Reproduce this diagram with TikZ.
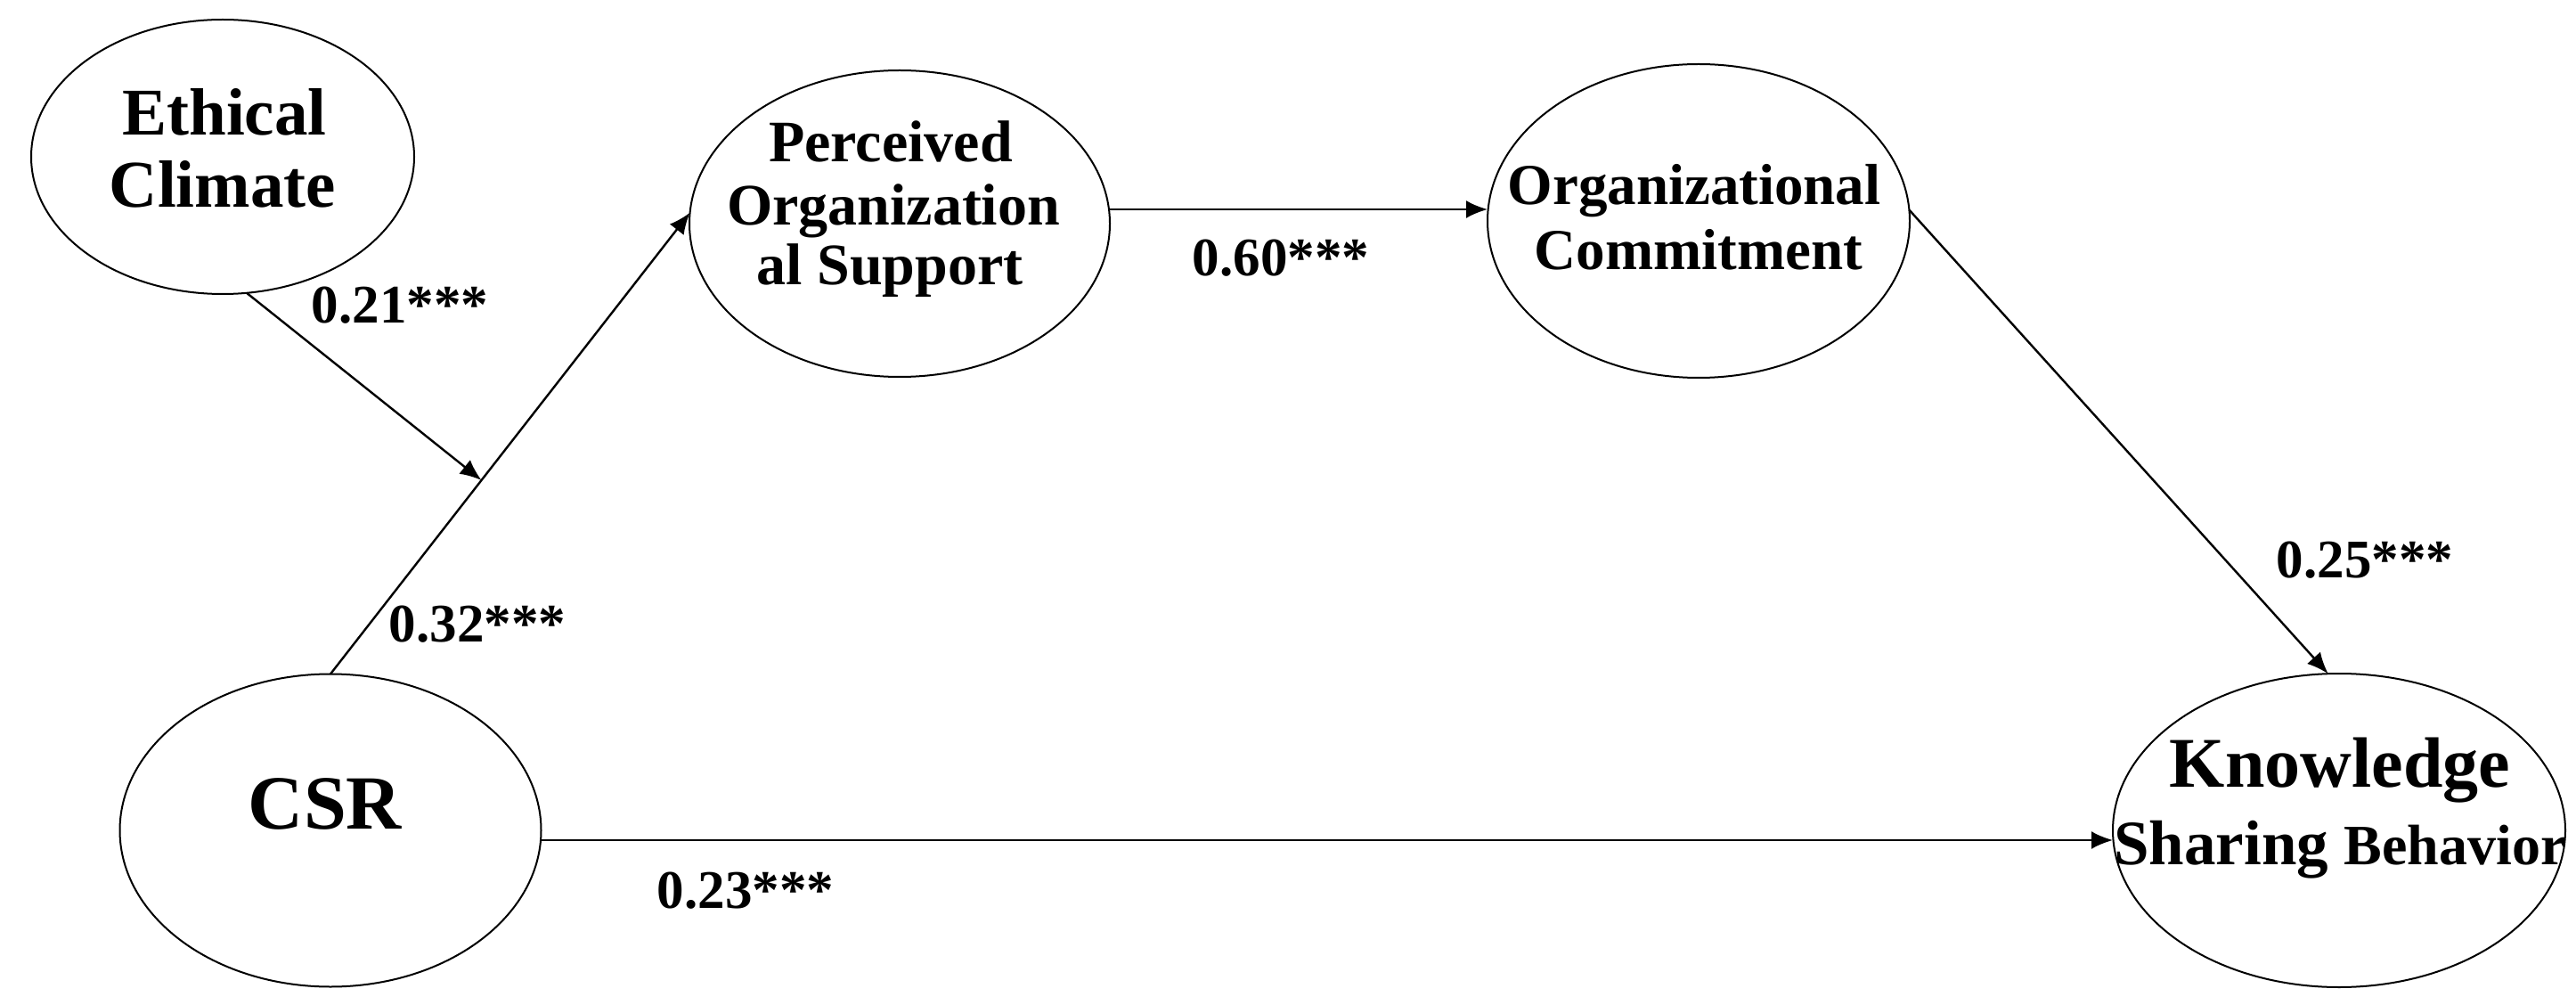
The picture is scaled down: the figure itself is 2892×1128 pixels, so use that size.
\documentclass[tikz,border=0pt]{standalone}
\usepackage{fontspec}
\setmainfont{Liberation Serif}
\usetikzlibrary{shapes.geometric,arrows.meta}
\begin{document}
\begin{tikzpicture}[x=0.5pt,y=-0.5pt,
  oval/.style={draw=black,line width=1pt,ellipse,inner sep=0pt,outer sep=0pt},
  txt/.style={anchor=base,inner sep=0pt,font=\bfseries},
  arr/.style={draw=black,line width=1.2pt,-{Latex[length=12pt,width=10pt]}},
  lbl/.style={anchor=base,inner sep=0pt,font=\fontsize{30.5pt}{31pt}\selectfont\bfseries}]
\fill[white] (0,0) rectangle (2892,1128);
\useasboundingbox (0,0) rectangle (2892,1128);

% ellipses
\node[oval,minimum width=215pt,minimum height=154pt] (ec) at (250,176) {};
\node[oval,minimum width=236pt,minimum height=172pt] (pos) at (1010,251) {};
\node[oval,minimum width=237pt,minimum height=176pt] (oc) at (1907,248) {};
\node[oval,minimum width=236.5pt,minimum height=175.5pt] (csr) at (371,932) {};
\node[oval,minimum width=254pt,minimum height=176pt] (ksb) at (2626,932) {};

% texts
\node[txt,font=\fontsize{37.5pt}{38pt}\selectfont\bfseries] (ec1) at (252,152) {Ethical};
\node[txt,font=\fontsize{37.5pt}{38pt}\selectfont\bfseries] (ec2) at (250,233) {Climate};
\node[txt,font=\fontsize{33pt}{34pt}\selectfont\bfseries] (pos1) at (1000,182) {Perceived};
\node[txt,font=\fontsize{33pt}{34pt}\selectfont\bfseries] (pos2) at (1003,253) {Organization};
\node[txt,font=\fontsize{33pt}{34pt}\selectfont\bfseries] (pos3) at (999,320) {al Support};
\node[txt,font=\fontsize{32.5pt}{33pt}\selectfont\bfseries] (oc1) at (1902,230) {Organizational};
\node[txt,font=\fontsize{32.5pt}{33pt}\selectfont\bfseries] (oc2) at (1907,303) {Commitment};
\node[txt,font=\fontsize{43pt}{44pt}\selectfont\bfseries] (csr1) at (365,930) {CSR};
\node[txt,font=\fontsize{40pt}{41pt}\selectfont\bfseries] (ksb1) at (2627,883) {Knowledge};
\node[txt] (ksb2) at (2627,970) {\fontsize{35.5pt}{36pt}\selectfont Sharing \fontsize{32pt}{36pt}\selectfont Behavior};

% labels
\node[lbl] (l21) at (449,363) {0.21***};
\node[lbl] (l32) at (536,720) {0.32***};
\node[lbl] (l60) at (1438,310) {0.60***};
\node[lbl] (l25) at (2655,648) {0.25***};
\node[lbl] (l23) at (837,1019) {0.23***};

% connectors
\draw[arr] (csr.north) -- (pos.177) coordinate[pos=0.42] (m);
\draw[arr] (ec.-80) -- (m);
\draw[arr] ([yshift=8pt]pos.east) -- ([yshift=8pt]pos.east -| oc.west);
\draw[arr] (oc.3) -- (ksb.94);
\draw[arr] ([yshift=-5.5pt]csr.east) -- ([yshift=-5.5pt]csr.east -| ksb.west);
\end{tikzpicture}
\end{document}
